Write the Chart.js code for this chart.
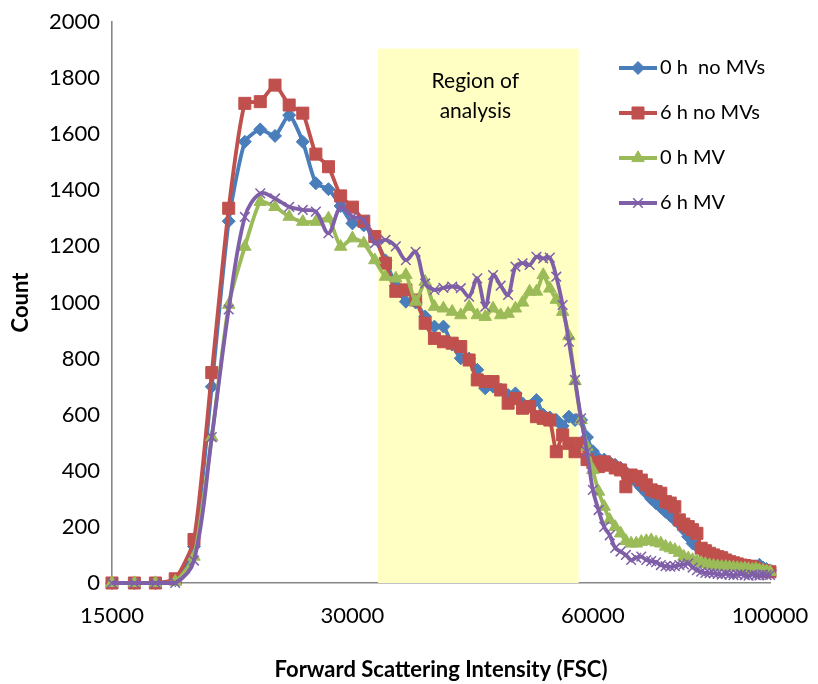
<!DOCTYPE html>
<html>
<head>
<meta charset="utf-8">
<script src="https://cdn.jsdelivr.net/npm/chart.js@4.4.1/dist/chart.umd.min.js"></script>
<style>
  html, body { margin: 0; padding: 0; background: #ffffff; }
  #wrap { width: 818px; height: 684px; }
</style>
</head>
<body>
<div id="wrap"><canvas id="c" width="818" height="684"></canvas></div>
<script>
// ---- data ----
const xValues = [
  15000, 16000, 17000, 18000, 19000, 20000, 21000, 22000, 23000, 24000,
  25000, 26000, 27000, 28000, 29000, 30000, 31000, 32000, 33000, 34000,
  35000, 36000, 37000, 38000, 39000, 40000, 41000, 42000, 43000, 44000,
  45000, 46000, 47000, 48000, 49000, 50000, 51000, 52000, 53000, 54000,
  55000, 56000, 57000, 58000, 59000, 60000, 61000, 62000, 63000, 64000,
  65000, 66000, 67000, 68000, 69000, 70000, 71000, 72000, 73000, 74000,
  75000, 76000, 77000, 78000, 79000, 80000, 81000, 82000, 83000, 84000,
  85000, 86000, 87000, 88000, 89000, 90000, 91000, 92000, 93000, 94000,
  95000, 96000, 97000, 98000, 99000, 100000
];
const xTickValues = [15000, 30000, 60000, 100000];
const yMin = 0, yMax = 2000, yStep = 200;

const seriesNames = ['0 h  no MVs', '6 h no MVs', '0 h MV', '6 h MV'];

const count0hNoMV = [
  0, 0, 0, 10, 130, 700, 1290, 1573, 1617, 1594,
  1668, 1573, 1425, 1404, 1344, 1282, 1275, 1230, 1150, 1060,
  1003, 1000, 950, 914, 914, 850, 801, 800, 760, 694,
  700, 690, 670, 676, 640, 630, 652, 600, 590, 581,
  560, 593, 581, 581, 520, 470, 444, 440, 430, 421,
  410, 395, 380, 360, 340, 321, 300, 284, 270, 254,
  240, 225, 210, 190, 165, 141, 130, 120, 110, 100,
  95, 90, 85, 80, 75, 70, 68, 65, 62, 60,
  58, 60, 65, 55, 50, 45
];
const count6hNoMV = [
  0, 0, 0, 15, 155, 750, 1336, 1710, 1716, 1775,
  1704, 1675, 1529, 1484, 1380, 1340, 1290, 1235, 1140, 1040,
  1045, 1009, 926, 872, 860, 855, 843, 795, 724, 718,
  718, 688, 641, 658, 623, 629, 593, 587, 581, 468,
  528, 498, 468, 498, 440, 430, 415, 432, 420, 410,
  403, 343, 385, 380, 367, 350, 332, 326, 320, 290,
  285, 272, 225, 210, 201, 190, 177, 124, 115, 106,
  100, 94, 90, 82, 76, 72, 68, 64, 62, 60,
  58, 52, 46, 44, 42, 40
];
const count0hMV = [
  0, 0, 0, 5, 94, 520, 992, 1199, 1359, 1341,
  1306, 1288, 1288, 1300, 1199, 1229, 1211, 1151, 1092, 1086,
  1098, 1003, 1074, 985, 979, 967, 955, 985, 955, 949,
  979, 955, 960, 979, 1000, 1039, 1039, 1098, 1050, 1010,
  967, 880, 720, 581, 486, 403, 326, 272, 225, 200,
  177, 150, 141, 141, 147, 150, 153, 145, 141, 130,
  124, 118, 108, 94, 88, 82, 78, 72, 68, 64,
  62, 60, 58, 58, 56, 55, 54, 52, 52, 50,
  48, 50, 46, 44, 42, 40
];
const count6hMV = [
  0, 0, 0, 0, 80, 520, 975, 1305, 1389, 1371,
  1341, 1330, 1324, 1247, 1341, 1306, 1294, 1211, 1223, 1200,
  1151, 1181, 1068, 1045, 1052, 1057, 1051, 1021, 1086, 985,
  1098, 1060, 1027, 1128, 1140, 1134, 1163, 1157, 1160, 1092,
  991, 860, 724, 587, 468, 332, 260, 200, 170, 125,
  112, 100, 82, 90, 94, 82, 78, 74, 64, 60,
  58, 60, 64, 66, 70, 55, 46, 40, 36, 35,
  34, 32, 30, 33, 30, 28, 30, 32, 28, 26,
  30, 28, 27, 30, 28, 29
];

const regionBounds = [32300, 57600];   // x extent of the shaded region
const regionTopCount = 1905;           // top of the shaded region (count units)
const regionLabel = ['Region of', 'analysis'];
const xTitle = 'Forward Scattering Intensity (FSC)';
const yTitle = 'Count';

// ---- styling ----
const FONT = 'Lato';
const colors = ['#4A7EBB', '#C0504D', '#9BBB59', '#7F5FA8'];
const styles = [
  { pointStyle: 'rectRot', radius: 6.5, bw: 1, tension: 0.2 },
  { pointStyle: 'rect', radius: 8.5, bw: 1, tension: 0.2 },
  { pointStyle: 'triangle', radius: 7.2, bw: 1, tension: 0.2 },
  { pointStyle: 'crossRot', radius: 6.8, bw: 1.5, tension: 0.35 }
];
const seriesValues = [count0hNoMV, count6hNoMV, count0hMV, count6hMV];

const datasets = seriesValues.map((vals, i) => ({
  label: seriesNames[i],
  data: xValues.map((x, k) => ({ x: x, y: vals[k] })),
  borderColor: colors[i],
  backgroundColor: colors[i],
  borderWidth: 3.8,
  pointStyle: styles[i].pointStyle,
  pointRadius: styles[i].radius,
  pointHoverRadius: styles[i].radius,
  pointBackgroundColor: colors[i],
  pointBorderColor: colors[i],
  pointBorderWidth: styles[i].bw,
  tension: styles[i].tension,
  fill: false,
  clip: false,
  order: 4 - i
}));

const overlay = {
  id: 'overlay',
  beforeDatasetsDraw(chart) {
    const { ctx, scales: { x, y } } = chart;
    const x0 = x.getPixelForValue(regionBounds[0]);
    const x1 = x.getPixelForValue(regionBounds[1]);
    const y0 = y.getPixelForValue(regionTopCount);
    const y1 = y.getPixelForValue(0);
    ctx.save();
    ctx.fillStyle = '#FFFFC4';
    ctx.fillRect(x0, y0, x1 - x0, y1 - y0);
    ctx.fillStyle = '#000000';
    ctx.font = '21px ' + FONT;
    ctx.textAlign = 'center';
    ctx.textBaseline = 'middle';
    const cx = (x0 + x1) / 2 - 3;
    regionLabel.forEach((t, i) => ctx.fillText(t, cx, y0 + 33 + i * 30));
    ctx.restore();
  },
  afterDraw(chart) {
    const { ctx } = chart;
    ctx.save();
    chart.data.datasets.forEach((ds, i) => {
      const yy = 68 + i * 45;
      ctx.strokeStyle = ds.borderColor;
      ctx.lineWidth = 3.8;
      ctx.beginPath();
      ctx.moveTo(619, yy);
      ctx.lineTo(657, yy);
      ctx.stroke();
      ctx.fillStyle = ds.pointBackgroundColor;
      ctx.strokeStyle = ds.pointBorderColor;
      ctx.lineWidth = ds.pointBorderWidth;
      Chart.helpers.drawPoint(ctx, {
        pointStyle: ds.pointStyle,
        radius: ds.pointRadius,
        rotation: 0,
        borderWidth: ds.pointBorderWidth
      }, 638, yy);
      ctx.fillStyle = '#000000';
      ctx.font = '20px ' + FONT;
      ctx.textAlign = 'left';
      ctx.textBaseline = 'middle';
      ctx.fillText(ds.label, 660, yy);
    });
    ctx.restore();
  }
};

new Chart(document.getElementById('c'), {
  type: 'line',
  data: { datasets: datasets },
  plugins: [overlay],
  options: {
    responsive: false,
    animation: false,
    layout: { padding: { top: 22, right: 48, bottom: 0, left: 0 } },
    plugins: {
      legend: { display: false },
      tooltip: { enabled: false }
    },
    scales: {
      x: {
        type: 'logarithmic',
        min: 15000,
        max: 100000,
        afterBuildTicks(scale) {
          scale.ticks = xTickValues.map(v => ({ value: v }));
        },
        afterFit(scale) {
          scale.height = 101;
          scale.paddingLeft = 0;
          scale.paddingRight = 0;
        },
        grid: { display: false, drawTicks: false },
        border: { display: true, color: '#868686', width: 1.6 },
        ticks: {
          autoSkip: false,
          maxRotation: 0,
          padding: 20,
          color: '#000000',
          font: { family: FONT, size: 22 },
          callback: v => String(v)
        },
        title: {
          display: true,
          text: xTitle,
          color: '#000000',
          font: { family: FONT, size: 22, weight: 'bold' },
          padding: { top: 0, bottom: 1 }
        }
      },
      y: {
        min: yMin,
        max: yMax,
        afterFit(scale) {
          scale.width = 112;
          scale.paddingTop = 0;
          scale.paddingBottom = 0;
        },
        grid: { display: false, drawTicks: false },
        border: { display: true, color: '#868686', width: 1.6 },
        ticks: {
          stepSize: yStep,
          padding: 12,
          color: '#000000',
          font: { family: FONT, size: 22 },
          callback: v => String(v)
        },
        title: {
          display: true,
          text: yTitle,
          color: '#000000',
          font: { family: FONT, size: 22, weight: 'bold' },
          padding: { top: 8, bottom: 0 }
        }
      }
    }
  }
});
</script>
</body>
</html>
